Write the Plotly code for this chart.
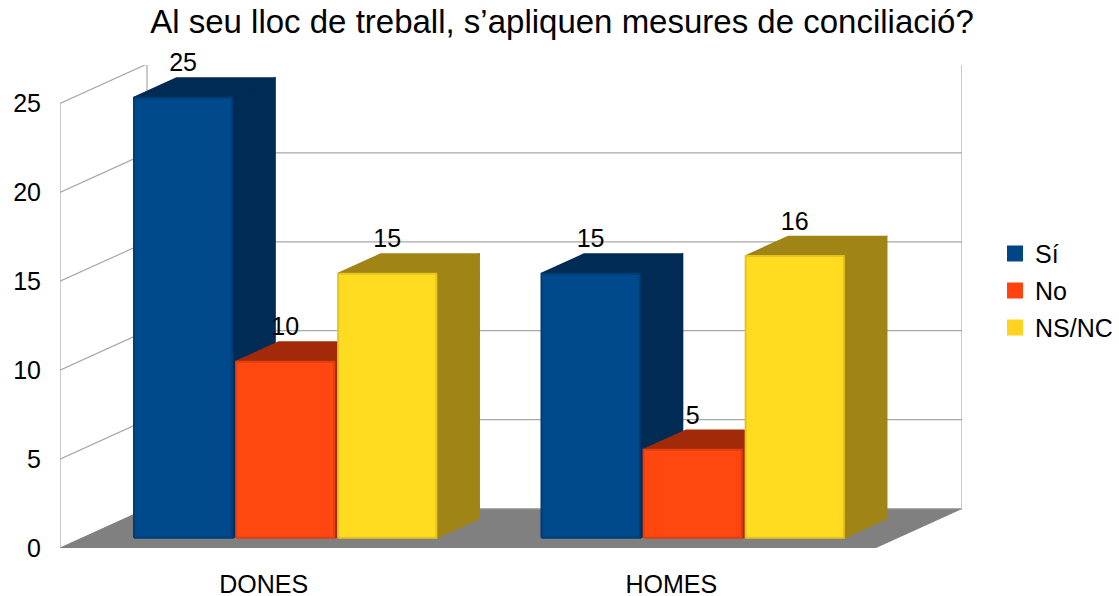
import plotly.graph_objects as go

# ---------- data ----------
title = "Al seu lloc de treball, s’apliquen mesures de conciliació?"
categories = ["DONES", "HOMES"]
series_names = ["Sí", "No", "NS/NC"]
si = [25, 15]
no = [10, 5]
ns_nc = [15, 16]
y_ticks = [0, 5, 10, 15, 20, 25]

# ---------- styles ----------
legend_colors = ["#004586", "#ff420e", "#ffd320"]
front_colors = ["#00498c", "#ff470f", "#ffdc20"]
edge_colors = ["#003d75", "#dd3f10", "#e6c31e"]
side_colors = ["#002b54", "#a32a08", "#a08415"]
FONT = "Liberation Sans"
FS = 25

# geometry of the oblique projection, in axis units
W, H = 1119, 596
L, R, T, B = 60, 962, 65, 548.5
PX_CAT = 407.5
PX_VAL = 17.8
DEPTH_X = 87 / PX_CAT
DEPTH_Y = 39.5 / PX_VAL
BAR_W = 0.241
BAR_STEP = 0.2505
BAR_SHIFT = -1.2 / PX_CAT
F0, F1 = 0.26, 0.75
BAR_SCALE = 0.99
LABEL_UP = 32.5 / PX_VAL


def proj(x, v, f):
    return x + f * DEPTH_X, v + f * DEPTH_Y


def poly(pts, color, line_color, lw=2):
    xs = [p[0] for p in pts] + [pts[0][0]]
    ys = [p[1] for p in pts] + [pts[0][1]]
    return go.Scatter(x=xs, y=ys, mode="lines", fill="toself", fillcolor=color,
                      line=dict(color=line_color, width=lw), hoverinfo="skip",
                      showlegend=False, cliponaxis=False)


def wall_line(xs, ys):
    return go.Scatter(x=xs, y=ys, mode="lines", line=dict(color="#a8a8a8", width=1.2),
                      hoverinfo="skip", showlegend=False, cliponaxis=False)


fig = go.Figure()
n_cat = len(categories)
top_tick = y_ticks[-1]

# floor
fig.add_trace(poly([proj(0, 0, 0), proj(0, 0, 1), proj(n_cat, 0, 1), proj(n_cat, 0, 0)],
                   "#808080", "#808080", 1))
# walls + grid
for t in y_ticks[1:]:
    a, b, c = proj(0, t, 0), proj(0, t, 1), proj(n_cat, t, 1)
    fig.add_trace(wall_line([a[0], b[0], c[0]], [a[1], b[1], c[1]]))
for x, f in [(0, 0), (0, 1), (n_cat, 1)]:
    a, b = proj(x, 0, f), proj(x, top_tick, f)
    fig.add_trace(wall_line([a[0], b[0]], [a[1], b[1]]))
a, b = proj(0, 0, 1), proj(n_cat, 0, 1)
fig.add_trace(wall_line([a[0], b[0]], [a[1], b[1]]))

# bars
label_x, label_y, label_t = [], [], []
all_series = [si, no, ns_nc]
for c in range(n_cat):
    for s, values in enumerate(all_series):
        v = values[c] * BAR_SCALE
        x0 = c + 0.5 + (s - 1) * BAR_STEP - BAR_W / 2 + BAR_SHIFT
        x1 = x0 + BAR_W
        # side
        fig.add_trace(poly([proj(x1, 0, F0), proj(x1, 0, F1), proj(x1, v, F1), proj(x1, v, F0)],
                           side_colors[s], side_colors[s]))
        # top
        fig.add_trace(poly([proj(x0, v, F0), proj(x0, v, F1), proj(x1, v, F1), proj(x1, v, F0)],
                           side_colors[s], side_colors[s]))
        # front
        fig.add_trace(poly([proj(x0, 0, F0), proj(x1, 0, F0), proj(x1, v, F0), proj(x0, v, F0)],
                           front_colors[s], edge_colors[s]))
        lx, ly = proj((x0 + x1) / 2, v, F0)
        label_x.append(lx)
        label_y.append(ly + LABEL_UP)
        label_t.append(str(values[c]))

# value labels
fig.add_trace(go.Scatter(x=label_x, y=label_y, text=label_t, mode="text",
                         textposition="middle center", cliponaxis=False,
                         textfont=dict(family=FONT, size=FS, color="#000000"),
                         hoverinfo="skip", showlegend=False))

# legend entries
for s, name in enumerate(series_names):
    fig.add_trace(go.Scatter(x=[None], y=[None], mode="markers", name=name,
                             legendgroup=name,
                             marker=dict(symbol="square", size=16, color=legend_colors[s])))

fig.update_layout(
    width=W, height=H, autosize=False,
    margin=dict(l=L, r=W - R, t=T, b=H - B, pad=0, autoexpand=False),
    paper_bgcolor="#ffffff", plot_bgcolor="#ffffff",
    font=dict(family=FONT, size=FS, color="#000000"),
    title=dict(text=title, x=562 / W, xanchor="center", y=1 - 21 / H, yanchor="middle",
               font=dict(family=FONT, size=33, color="#000000")),
    xaxis=dict(range=[0, (R - L) / PX_CAT], tickmode="array", automargin=False,
               tickvals=[i + 0.5 for i in range(n_cat)], ticktext=categories,
               showgrid=False, zeroline=False, showline=False, ticks="outside",
               ticklen=14, tickcolor="rgba(0,0,0,0)", fixedrange=True),
    yaxis=dict(range=[0, (B - T) / PX_VAL], tickmode="array", tickvals=y_ticks, automargin=False,
               showgrid=False, zeroline=False, showline=False, ticks="outside",
               ticklen=13, tickcolor="rgba(0,0,0,0)", fixedrange=True),
    showlegend=True,
    legend=dict(x=(995 - L) / (R - L), y=1 - (231 - T) / (B - T), xanchor="left", yanchor="top",
                bgcolor="rgba(0,0,0,0)", tracegroupgap=1.5, itemclick=False, itemdoubleclick=False,
                font=dict(family=FONT, size=FS)),
)

fig.write_html("out.html", post_script="document.body.style.margin='0';document.body.style.overflow='hidden';",
               config=dict(displayModeBar=False))
